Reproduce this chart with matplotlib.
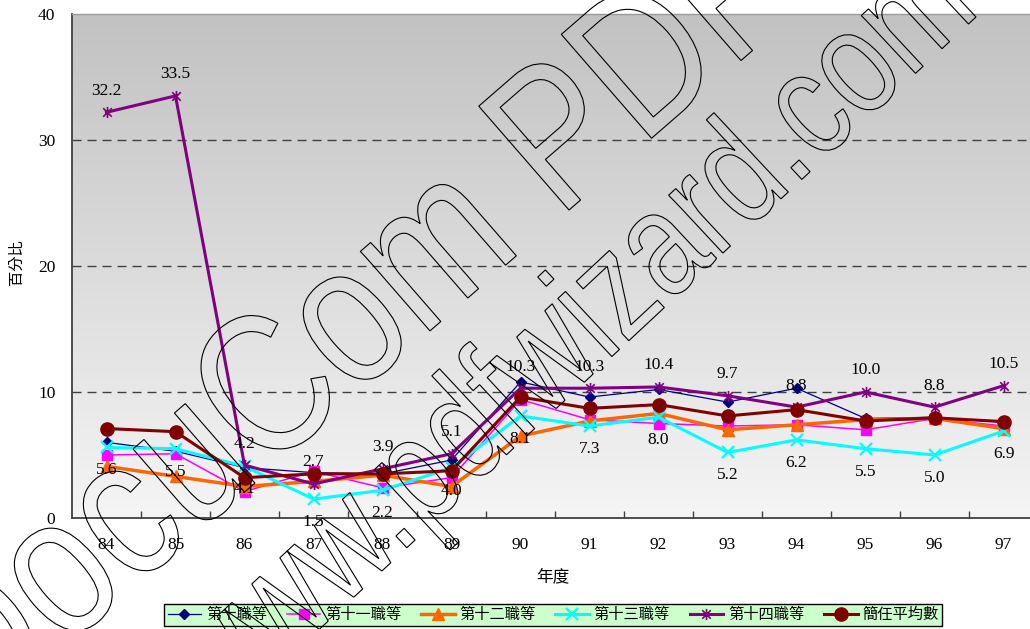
import numpy as np
import matplotlib
matplotlib.use("Agg")
import matplotlib.pyplot as plt
import matplotlib.transforms as mtransforms
from matplotlib.path import Path
from matplotlib.patches import PathPatch
from matplotlib.textpath import TextPath
from matplotlib.font_manager import FontProperties

plt.rcParams['font.family'] = ['Liberation Serif', 'Noto Sans CJK TC']

# 年度 (民國)
years = ['84', '85', '86', '87', '88', '89', '90', '91', '92', '93', '94', '95', '96', '97']

# 各職等百分比
grade10 = [6.0, 5.3, 4.0, 3.6, 3.5, 4.6, 10.8, 9.6, 10.2, 9.2, 10.3, 7.9, 8.0, 7.6]
grade11 = [5.0, 5.1, 2.1, 3.7, 2.4, 3.2, 9.4, 7.8, 7.5, 7.3, 7.4, 7.0, 7.9, 7.3]
grade12 = [4.1, 3.3, 2.5, 2.9, 3.4, 2.5, 6.5, 7.7, 8.3, 7.0, 7.4, 7.8, 7.9, 7.1]
grade13 = [5.6, 5.5, 4.1, 1.5, 2.2, 4.0, 8.1, 7.3, 8.0, 5.2, 6.2, 5.5, 5.0, 6.9]
grade14 = [32.2, 33.5, 4.2, 2.7, 3.9, 5.1, 10.3, 10.3, 10.4, 9.7, 8.8, 10.0, 8.8, 10.5]
senior_avg = [7.1, 6.85, 3.2, 3.5, 3.5, 3.75, 9.6, 8.7, 9.0, 8.1, 8.6, 7.7, 7.95, 7.65]

series_names = ['第十職等', '第十一職等', '第十二職等', '第十三職等', '第十四職等', '簡任平均數']

W, H, DPI = 1030, 629, 100
fig = plt.figure(figsize=(W / DPI, H / DPI), dpi=DPI)

# plot area in pixels: left 72, top 14, bottom 518, runs off the right edge
x0, y_top, y_bot = 72, 14, 518
step = 69
ax = fig.add_axes([x0 / W, (H - y_bot) / H, (W - x0) / W, (y_bot - y_top) / H])
xmax = (W - x0) / step - 0.5

# vertical gray gradient behind the data, darker at the top
grad = np.linspace(0.76, 0.96, 256)[:, None]
ax.imshow(np.dstack([grad, grad, grad]), extent=[-0.5, xmax, 0, 40], aspect='auto',
          origin='upper', zorder=0)
ax.set_xlim(-0.5, xmax)
ax.set_ylim(0, 40)

# asterisk marker: an x with a vertical bar through it
star = Path([(-1, -1), (1, 1), (-1, 1), (1, -1), (0, -1.3), (0, 1.3)],
            [Path.MOVETO, Path.LINETO] * 3)

xs = np.arange(len(years))
styles = [
    (grade10, '#000080', 0.9, dict(marker='D', ms=5)),
    (grade11, '#ff00ff', 1.1, dict(marker='s', ms=6.5)),
    (grade12, '#ff6600', 2.5, dict(marker='^', ms=9)),
    (grade13, '#00ffff', 2.2, dict(marker='x', ms=8.5, mew=1.6)),
    (grade14, '#800080', 2.2, dict(marker=star, ms=8, mew=1.2, mfc='none')),
    (senior_avg, '#800000', 2.2, dict(marker='o', ms=9.5)),
]
handles = []
for (vals, color, lw, mk), name in zip(styles, series_names):
    ln, = ax.plot(xs, vals, color=color, lw=lw, mec=color, label=name, zorder=3, **mk)
    handles.append(ln)

# value labels: 第十四職等 above, 第十三職等 below
for i, v in enumerate(grade14):
    ax.annotate(f'{v:.1f}', (i, v), xytext=(0, 15.5), textcoords='offset points',
                ha='center', va='center', fontsize=12.5, zorder=4)
for i, v in enumerate(grade13):
    ax.annotate(f'{v:.1f}', (i, v), xytext=(0, -16.5), textcoords='offset points',
                ha='center', va='center', fontsize=12.5, zorder=4)

ax.set_yticks([0, 10, 20, 30, 40])
ax.tick_params(axis='y', length=0, pad=12, labelsize=12.5)
for yv in [10, 20, 30]:
    ax.axhline(yv, color='#404040', lw=1, dashes=(6.5, 4.3), zorder=1)

ax.set_xticks(xs)
ax.set_xticklabels(years, fontsize=12.5)
ax.set_xticks(xs[:-1] + 0.5, minor=True)
ax.tick_params(axis='x', which='major', length=0, pad=14)
ax.tick_params(axis='x', which='minor', direction='in', length=5, width=1, color='#404040')

for side in ['left', 'bottom']:
    ax.spines[side].set_color('#404040')
    ax.spines[side].set_linewidth(1.3)
ax.spines['top'].set_color('#9a9a9a')
ax.spines['top'].set_linewidth(1)
ax.spines['right'].set_visible(False)

fig.text(553 / W, 1 - 577 / H, '年度', ha='center', va='center', fontsize=12)
fig.text(17 / W, 1 - 262 / H, '百分比', ha='center', va='center', fontsize=11, rotation=90)

leg = fig.legend(handles=handles, ncol=6, loc='center',
                 bbox_to_anchor=(553 / W, 1 - 615 / H), fontsize=11,
                 handlelength=2.2, handletextpad=0.3, columnspacing=1.3,
                 borderpad=0.25, fancybox=False, framealpha=1)
leg.get_frame().set_facecolor('#ccffcc')
leg.get_frame().set_edgecolor('black')
leg.get_frame().set_linewidth(1)


def outline_text(s, u, v, cx, cy, size, squeeze, angle):
    """Hollow, condensed, rotated text; point (u, v) in em units lands on pixel (cx, cy)."""
    tp = TextPath((0, 0), s, size=size, prop=FontProperties(family='Liberation Sans'))
    tr = (mtransforms.Affine2D()
          .translate(-u * size, -v * size)
          .scale(squeeze, 1)
          .rotate_deg(angle)
          .translate(cx, H - cy))
    fig.add_artist(PathPatch(tp, facecolor='none', edgecolor='black', lw=0.8,
                             transform=tr, zorder=10))


outline_text('DocuCom PDF', 3.876, 0.358, 407, 256, 200, 0.82, 41)
outline_text('www.pdfwizard.com', 6.40, 0.26, 744, 180, 150, 0.79, 43)

fig.savefig('out.png', dpi=DPI)
